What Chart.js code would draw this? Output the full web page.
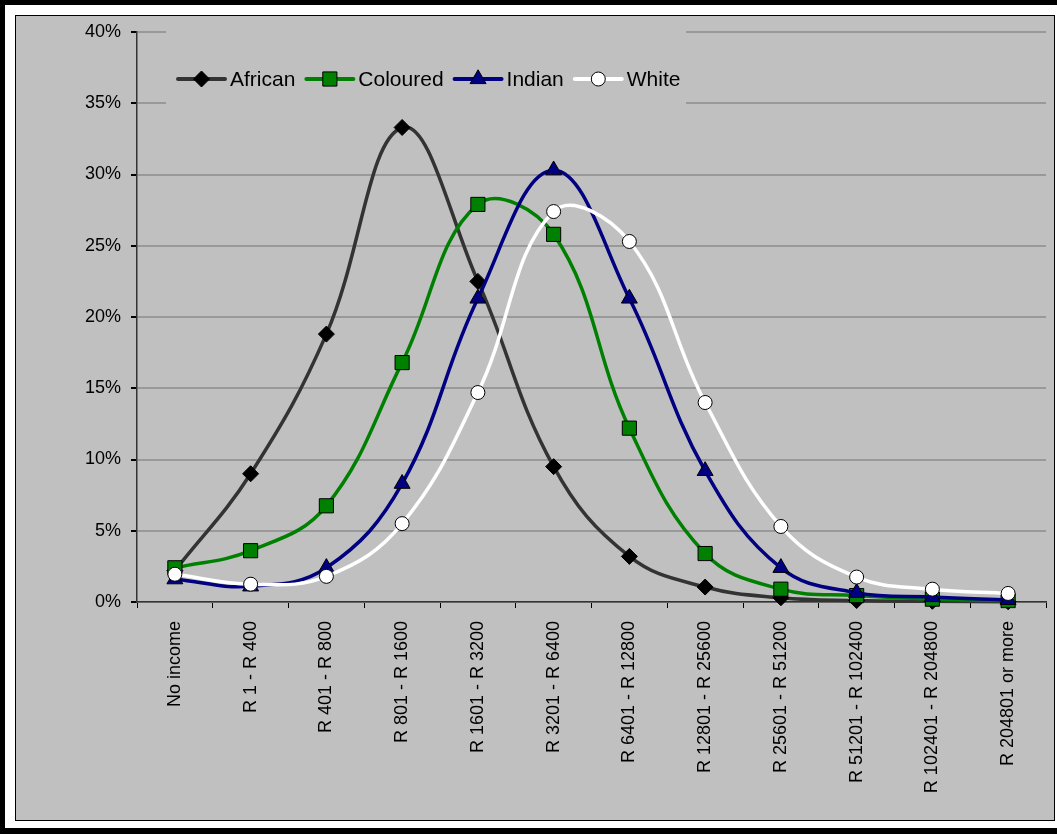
<!DOCTYPE html>
<html>
<head>
<meta charset="utf-8">
<script src="https://cdn.jsdelivr.net/npm/chart.js@4.4.0/dist/chart.umd.min.js"></script>
<style>
  html, body { margin: 0; padding: 0; background: #fff; }
  canvas { display: block; }
</style>
</head>
<body>
<canvas id="c" width="1057" height="834"></canvas>
<script>
const categories = [
  'No income', 'R 1 - R 400', 'R 401 - R 800', 'R 801 - R 1600',
  'R 1601 - R 3200', 'R 3201 - R 6400', 'R 6401 - R 12800', 'R 12801 - R 25600',
  'R 25601 - R 51200', 'R 51201 - R 102400', 'R 102401 - R 204800', 'R 204801 or more'
];
const african  = [2.2, 9.0, 18.8, 33.3, 22.5, 9.5, 3.2, 1.05, 0.3, 0.1, 0.05, 0.02];
const coloured = [2.4, 3.6, 6.75, 16.8, 27.9, 25.8, 12.2, 3.4, 0.9, 0.45, 0.2, 0.1];
const indian   = [1.6, 1.1, 2.4, 8.3, 21.3, 30.3, 21.3, 9.2, 2.4, 0.65, 0.35, 0.15];
const white    = [1.95, 1.25, 1.8, 5.5, 14.7, 27.4, 25.3, 14.0, 5.3, 1.75, 0.9, 0.6];
const yTicks   = [0, 5, 10, 15, 20, 25, 30, 35, 40];

const FONT = '"Liberation Sans", Arial, sans-serif';

// page frame: thick black edge, white gap, thin black box with grey fill
const framePlugin = {
  id: 'frame',
  beforeDraw(chart) {
    const { ctx, width, height } = chart;
    ctx.save();
    ctx.fillStyle = '#fff';
    ctx.fillRect(0, 0, width, height);
    ctx.fillStyle = '#000';
    ctx.fillRect(0, 0, width, 5);
    ctx.fillRect(0, 0, 5, height);
    ctx.fillRect(0, 828, width, 6);
    ctx.fillStyle = '#C0C0C0';
    ctx.fillRect(15, 15, 1040, 806);
    ctx.strokeStyle = '#000';
    ctx.lineWidth = 1;
    ctx.strokeRect(15.5, 15.5, 1039, 805);
    ctx.restore();
  }
};

// Excel style legend inside the plot, line + marker + name
const legendPlugin = {
  id: 'xlLegend',
  afterDraw(chart) {
    const ctx = chart.ctx;
    ctx.save();
    ctx.fillStyle = '#C0C0C0';
    ctx.fillRect(166, 29, 520, 78);
    ctx.font = '21px ' + FONT;
    ctx.textBaseline = 'middle';
    let x = 178;
    const y = 79;
    chart.data.datasets.forEach(ds => {
      ctx.strokeStyle = ds.borderColor;
      ctx.lineWidth = 4;
      ctx.lineCap = 'round';
      ctx.beginPath();
      ctx.moveTo(x, y);
      ctx.lineTo(x + 47, y);
      ctx.stroke();
      ctx.lineWidth = 1;
      ctx.lineCap = 'butt';
      ctx.fillStyle = ds.pointBackgroundColor;
      ctx.strokeStyle = ds.pointBorderColor;
      Chart.helpers.drawPoint(ctx, { pointStyle: ds.pointStyle, radius: ds.pointRadius, borderWidth: 1, rotation: 0 }, x + 23.5, y);
      ctx.fillStyle = '#000';
      ctx.fillText(ds.label, x + 52, y + 1);
      x += 52 + ctx.measureText(ds.label).width + 11;
    });
    ctx.restore();
  }
};

function series(label, data, color, style, radius, fill, order) {
  return {
    label, data, order,
    borderColor: color, borderWidth: 3.5,
    pointStyle: style, pointRadius: radius, pointHoverRadius: radius,
    pointBackgroundColor: fill, pointBorderColor: '#000', pointBorderWidth: 1,
    tension: 0.4, fill: false, clip: false
  };
}

new Chart(document.getElementById('c'), {
  type: 'line',
  data: {
    labels: categories,
    datasets: [
      series('African', african, '#333333', 'rectRot', 8, '#000000', 4),
      series('Coloured', coloured, '#008000', 'rect', 10, '#008000', 3),
      series('Indian', indian, '#000080', 'triangle', 9.2, '#000080', 2),
      series('White', white, '#FFFFFF', 'circle', 7, '#FFFFFF', 1)
    ]
  },
  options: {
    responsive: false,
    animation: false,
    devicePixelRatio: 1,
    layout: { padding: { top: 32, left: 0, right: 1, bottom: 0 } },
    plugins: { legend: { display: false }, tooltip: { enabled: false } },
    scales: {
      x: {
        offset: true,
        grid: { offset: true, drawOnChartArea: false, tickLength: 6, tickColor: '#000', lineWidth: 1 },
        border: { color: '#333', width: 1.5 },
        ticks: { font: { family: FONT, size: 18 }, color: '#000', minRotation: 90, maxRotation: 90, autoSkip: false, padding: 13 },
        afterFit(s) { s.height = 232; }
      },
      y: {
        min: 0, max: 40,
        afterBuildTicks(s) { s.ticks = yTicks.map(v => ({ value: v })); },
        grid: { color: '#999999', lineWidth: 2, tickLength: 6, tickColor: '#000' },
        border: { color: '#333', width: 1.5 },
        ticks: { font: { family: FONT, size: 18 }, color: '#000', padding: 10, callback: v => v + '%' },
        afterFit(s) { s.width = 137; }
      }
    }
  },
  plugins: [framePlugin, legendPlugin]
});
</script>
</body>
</html>
